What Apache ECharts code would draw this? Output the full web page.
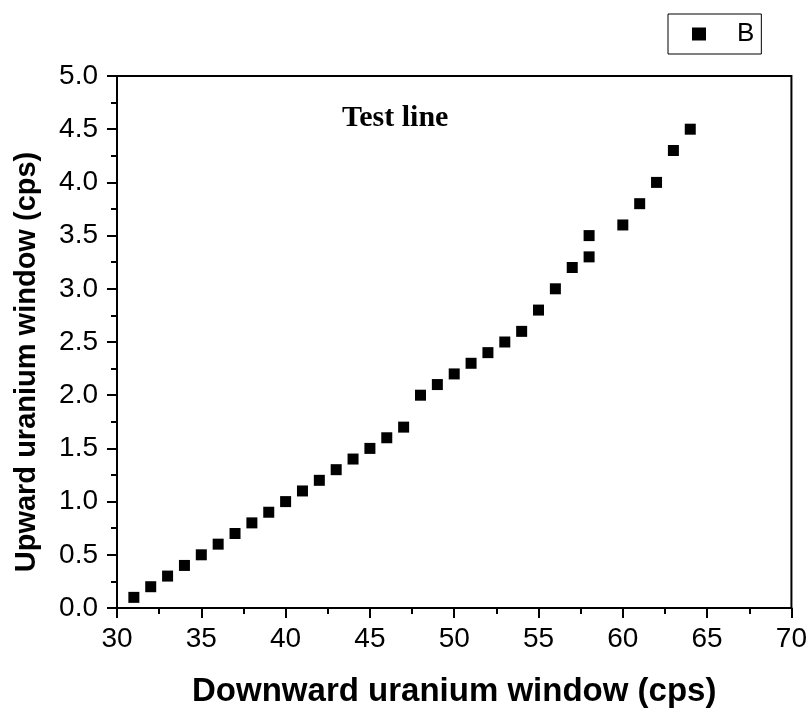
<!DOCTYPE html>
<html>
<head>
<meta charset="utf-8">
<script src="https://cdn.jsdelivr.net/npm/echarts@6/dist/echarts.min.js"></script>
<style>html,body{margin:0;padding:0;background:#fff}#c{width:810px;height:713px}</style>
</head>
<body>
<div id="c"></div>
<script>
var xValues = [31,32,33,34,35,36,37,38,39,40,41,42,43,44,45,46,47,48,49,50,51,52,53,54,55,56,57,58,58,60,61,62,63,64];
var yValues = [0.1,0.2,0.3,0.4,0.5,0.6,0.7,0.8,0.9,1.0,1.1,1.2,1.3,1.4,1.5,1.6,1.7,2.0,2.1,2.2,2.3,2.4,2.5,2.6,2.8,3.0,3.2,3.3,3.5,3.6,3.8,4.0,4.3,4.5];
var seriesName = 'B';
var chartTitle = 'Test line';
var xTitle = 'Downward uranium window (cps)';
var yTitle = 'Upward uranium window (cps)';

var pts = xValues.map(function(x, i){ return [x, yValues[i]]; });
var chart = echarts.init(document.getElementById('c'));
var axisCommon = {
  axisLine: {show: true, lineStyle: {color: '#000', width: 2}},
  axisTick: {show: true, inside: false, length: 10, lineStyle: {color: '#000', width: 2}},
  minorTick: {show: true, splitNumber: 2, length: 6, lineStyle: {color: '#000', width: 2}},
  splitLine: {show: false},
  axisLabel: {color: '#000', fontFamily: 'Liberation Sans, Arial', fontSize: 28}
};
chart.setOption({
  animation: false,
  backgroundColor: '#fff',
  title: {
    text: chartTitle, left: 342, top: 103, padding: 0,
    textStyle: {fontFamily: 'Liberation Serif, Times New Roman', fontWeight: 'bold', fontSize: 30, color: '#000'}
  },
  legend: {
    left: 668, top: 14,
    padding: [7, 7, 7, 24],
    borderColor: '#000', borderWidth: 1,
    icon: 'rect', itemWidth: 14, itemHeight: 13,
    itemStyle: {color: '#000', opacity: 1},
    textStyle: {fontFamily: 'Liberation Sans, Arial', fontSize: 26, color: '#000', padding: [0, 0, 0, 26]},
    data: [seriesName]
  },
  grid: {left: 117, right: 18, top: 76, bottom: 98, show: true, borderColor: '#000', borderWidth: 2, containLabel: false},
  xAxis: Object.assign({}, axisCommon, {
    type: 'value', min: 30, max: 70, interval: 5,
    name: xTitle, nameLocation: 'middle', nameGap: 67,
    nameTextStyle: {fontFamily: 'Liberation Sans, Arial', fontWeight: 'bold', fontSize: 33, color: '#000'},
    axisLabel: Object.assign({}, axisCommon.axisLabel, {margin: 17})
  }),
  yAxis: Object.assign({}, axisCommon, {
    type: 'value', min: 0, max: 5, interval: 0.5,
    name: yTitle, nameLocation: 'middle', nameGap: 76,
    nameTextStyle: {fontFamily: 'Liberation Sans, Arial', fontWeight: 'bold', fontSize: 29, color: '#000', padding: [0, 40, 0, 0]},
    axisLabel: Object.assign({}, axisCommon.axisLabel, {margin: 19, formatter: function(v){ return v.toFixed(1); }})
  }),
  series: [{
    name: seriesName, type: 'scatter', symbol: 'rect', symbolSize: 11,
    itemStyle: {color: '#000', opacity: 1},
    emphasis: {disabled: true},
    data: pts
  }]
});
</script>
</body>
</html>
